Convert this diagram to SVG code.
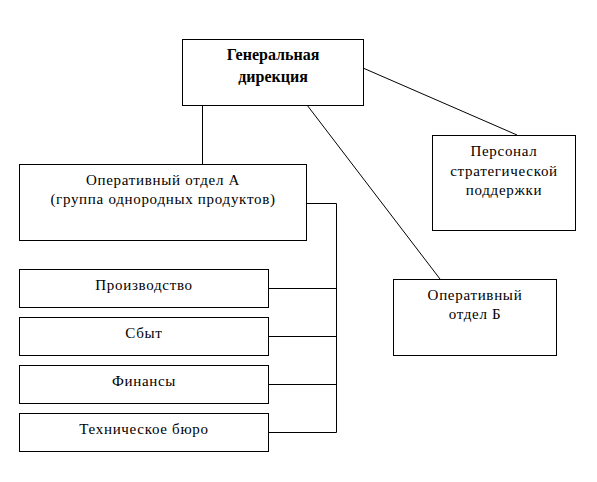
<svg xmlns="http://www.w3.org/2000/svg" width="597" height="482" viewBox="0 0 597 482">
<style>
rect{fill:#fff;stroke:#000;stroke-width:1}
text{font-family:'Liberation Serif','Times New Roman','DejaVu Serif',serif;font-size:15px;letter-spacing:0.7px;fill:#000;text-anchor:middle}
.b{font-weight:bold;font-size:16px;letter-spacing:0}
.c line,.c polyline{stroke:#000;stroke-width:1;fill:none}
</style>
<g class="c" id="connectors">
<line x1="202.5" y1="105" x2="202.5" y2="164"/>
<line x1="307" y1="105" x2="440" y2="279"/>
<line x1="363" y1="68" x2="517" y2="135"/>
<polyline points="306,203.5 336.5,203.5 336.5,432.5 268,432.5"/>
<line x1="268" y1="288.5" x2="336.5" y2="288.5"/>
<line x1="268" y1="336.5" x2="336.5" y2="336.5"/>
<line x1="268" y1="384.5" x2="336.5" y2="384.5"/>
</g>
<g id="gen"><rect x="182.5" y="39.5" width="181" height="66"/><text class="b" x="273" y="60">Генеральная</text><text class="b" x="273" y="82">дирекция</text></g>
<g id="pers"><rect x="432.5" y="135.5" width="143" height="95"/><text x="504" y="156">Персонал</text><text x="504" y="176">стратегической</text><text x="504" y="195">поддержки</text></g>
<g id="opB"><rect x="393.5" y="279.5" width="163" height="76"/><text x="475" y="300">Оперативный</text><text x="475" y="319">отдел Б</text></g>
<g id="opA"><rect x="19.5" y="164.5" width="287" height="76"/><text x="163" y="185">Оперативный отдел А</text><text x="163" y="204">(группа однородных продуктов)</text></g>
<g id="prod"><rect x="19.5" y="269.5" width="249" height="38"/><text x="144" y="290">Производство</text></g>
<g id="sbyt"><rect x="19.5" y="317.5" width="249" height="38"/><text x="144" y="338">Сбыт</text></g>
<g id="fin"><rect x="19.5" y="365.5" width="249" height="38"/><text x="144" y="386">Финансы</text></g>
<g id="tech"><rect x="19.5" y="413.5" width="249" height="38"/><text x="144" y="434">Техническое бюро</text></g>
</svg>
